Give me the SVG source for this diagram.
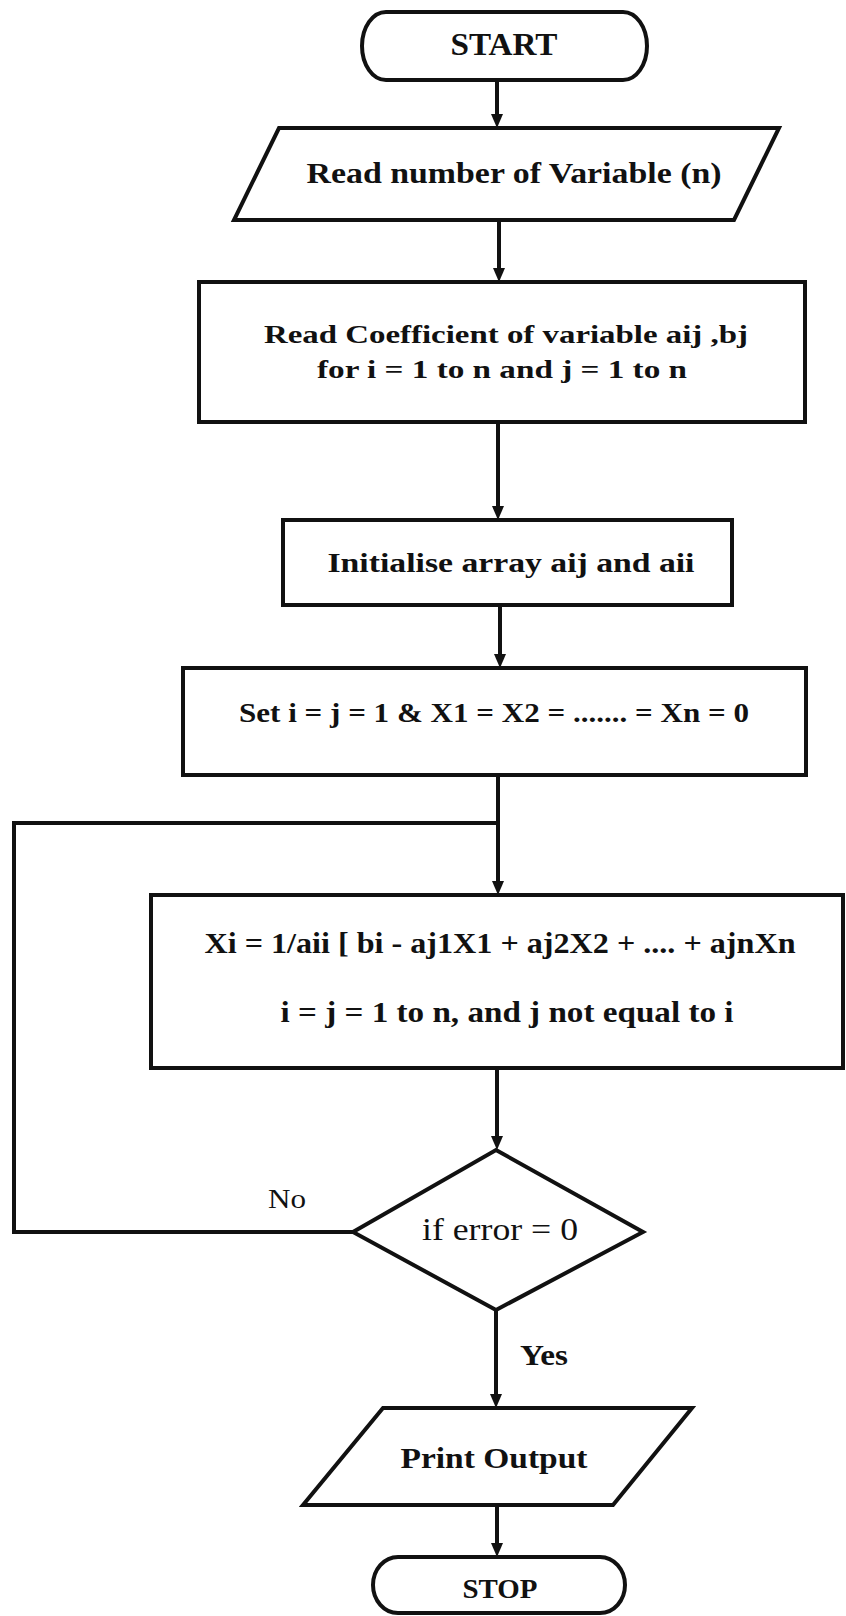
<svg xmlns="http://www.w3.org/2000/svg" width="846" height="1616" viewBox="0 0 846 1616">
  <defs>
    <marker id="arrow" markerUnits="userSpaceOnUse" markerWidth="15" markerHeight="12" refX="6" refY="6" orient="auto">
      <path d="M0,0 L14,6 L0,12 Z" fill="#111"/>
    </marker>
    <style>
      .shape { fill: #fff; stroke: #111; stroke-width: 4; stroke-linejoin: miter; }
      .conn { fill: none; stroke: #111; stroke-width: 4; }
      .lbl { font-family: "Liberation Serif", "Times New Roman", serif; font-weight: bold; fill: #111; text-anchor: middle; }
      .reg { font-family: "Liberation Serif", "Times New Roman", serif; font-weight: normal; fill: #111; text-anchor: middle; }
    </style>
  </defs>
  <rect width="846" height="1616" fill="#fff"/>

  <!-- connectors -->
  <g id="connectors">
    <line class="conn" x1="497" y1="80" x2="497" y2="120" marker-end="url(#arrow)"/>
    <line class="conn" x1="499" y1="220" x2="499" y2="274" marker-end="url(#arrow)"/>
    <line class="conn" x1="498" y1="422" x2="498" y2="512" marker-end="url(#arrow)"/>
    <line class="conn" x1="500" y1="605" x2="500" y2="660" marker-end="url(#arrow)"/>
    <line class="conn" x1="498" y1="775" x2="498" y2="887" marker-end="url(#arrow)"/>
    <polyline class="conn" points="353,1232 14,1232 14,823 498,823"/>
    <line class="conn" x1="497" y1="1068" x2="497" y2="1142" marker-end="url(#arrow)"/>
    <line class="conn" x1="496" y1="1310" x2="496" y2="1400" marker-end="url(#arrow)"/>
    <line class="conn" x1="497" y1="1505" x2="497" y2="1549" marker-end="url(#arrow)"/>
    <text class="reg" x="287" y="1208" font-size="28" textLength="38" lengthAdjust="spacingAndGlyphs">No</text>
    <text class="lbl" x="544" y="1365" font-size="29" textLength="48" lengthAdjust="spacingAndGlyphs">Yes</text>
  </g>

  <g id="start">
    <path class="shape" d="M386,12 H623 A24,34 0 0 1 623,80 H386 A24,34 0 0 1 386,12 Z"/>
    <text class="lbl" x="504" y="55" font-size="32" textLength="107" lengthAdjust="spacingAndGlyphs">START</text>
  </g>

  <g id="read-n">
    <polygon class="shape" points="279,128 779,128 734,220 234,220"/>
    <text class="lbl" x="514" y="183" font-size="30" textLength="415" lengthAdjust="spacingAndGlyphs">Read number of Variable (n)</text>
  </g>

  <g id="read-coeff">
    <rect class="shape" x="199" y="282" width="606" height="140"/>
    <text class="lbl" x="506" y="343" font-size="26" textLength="484" lengthAdjust="spacingAndGlyphs">Read Coefficient of variable aij ,bj</text>
    <text class="lbl" x="502" y="378" font-size="26" textLength="370" lengthAdjust="spacingAndGlyphs">for i = 1 to n and j = 1 to n</text>
  </g>

  <g id="init">
    <rect class="shape" x="283" y="520" width="449" height="85"/>
    <text class="lbl" x="511" y="572" font-size="28" textLength="367" lengthAdjust="spacingAndGlyphs">Initialise array aij and aii</text>
  </g>

  <g id="set">
    <rect class="shape" x="183" y="668" width="623" height="107"/>
    <text class="lbl" x="494" y="722" font-size="27" textLength="510" lengthAdjust="spacingAndGlyphs">Set i = j = 1 &amp; X1 = X2 = ....... = Xn = 0</text>
  </g>

  <g id="compute">
    <rect class="shape" x="151" y="895" width="692" height="173"/>
    <text class="lbl" x="500" y="953" font-size="30" textLength="591" lengthAdjust="spacingAndGlyphs">Xi = 1/aii [ bi - aj1X1 + aj2X2 + .... + ajnXn</text>
    <text class="lbl" x="507" y="1022" font-size="30" textLength="453" lengthAdjust="spacingAndGlyphs">i = j = 1 to n, and j not equal to i</text>
  </g>

  <g id="decision">
    <polygon class="shape" points="496,1150 643,1232 496,1310 353,1232"/>
    <text class="reg" x="500" y="1240" font-size="31" textLength="156" lengthAdjust="spacingAndGlyphs">if error = 0</text>
  </g>

  <g id="print">
    <polygon class="shape" points="383,1408 692,1408 613,1505 303,1505"/>
    <text class="lbl" x="494" y="1468" font-size="29" textLength="187" lengthAdjust="spacingAndGlyphs">Print Output</text>
  </g>

  <g id="stop">
    <path class="shape" d="M398,1557 H600 A25,28 0 0 1 600,1613 H398 A25,28 0 0 1 398,1557 Z"/>
    <text class="lbl" x="500" y="1598" font-size="28" textLength="75" lengthAdjust="spacingAndGlyphs">STOP</text>
  </g>
</svg>
